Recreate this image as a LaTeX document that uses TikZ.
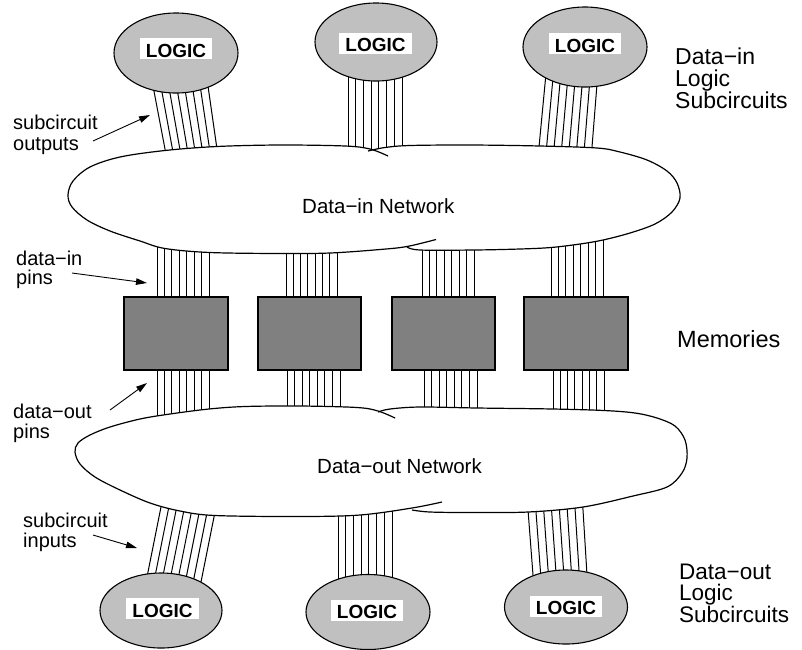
\documentclass[tikz,border=0pt]{standalone}
\usepackage{fontspec}
\setmainfont{Liberation Sans}
\usetikzlibrary{shapes.geometric,arrows.meta}
\definecolor{logicgray}{HTML}{C0C0C0}
\definecolor{memgray}{HTML}{808080}
\newcommand\wirebundle[6]{\foreach \i in {0,...,7}{\draw[wire] ({#1+(#2-#1)*\i/7},#3) -- ({#4+(#5-#4)*\i/7},#6);}}
\newcommand\blobfill[1]{\fill[white] plot[smooth,tension=0.55] coordinates {#1} -- cycle;}
\newcommand\blobdraw[1]{\draw[cloudline] plot[smooth,tension=0.55] coordinates {#1};}
\def\cAL{(388,156) (370,149) (345,146) (280,145) (217,146.5) (165,150.5) (120,157) (90,167) (73,181) (68,195) (72,207) (87,220) (110,231) (140,241) (165,248.5) (210,252.5) (280,253.5) (330,253) (380,249.5) (407,246.5) (436,239.5)}
\def\cAR{(407,247) (420,250) (474,250) (520,249) (551,247.5) (580,244) (603,240) (630,233) (655,224) (672,212) (680,198) (677,183) (667,171) (647,160) (620,152) (597,148) (540,146) (470,145) (410,145.5) (385,147.5) (368,151)}
\def\cBL{(395,418) (378,411) (357,407.5) (300,406) (245,406.5) (209,409) (170,414) (140,419) (110,427) (90,435) (78,443) (75,452) (80,464) (95,477) (120,490) (150,503) (180,511) (215,515.5) (300,516.5) (360,515) (412,508) (442,502)}
\def\cBR{(378,412) (390,409) (420,407) (477,408) (553,409) (604,410.5) (635,413) (657,418) (675,426) (685,440) (687,458) (682,473) (667,487) (633,496) (583,507) (528,512) (470,512.5) (430,512) (412,510)}
\begin{document}
\begin{tikzpicture}[x=1pt,y=-1pt,
  wire/.style={line width=1pt, shorten <=-8pt, shorten >=-8pt},
  cloudline/.style={line width=1.2pt},
  logic/.style={ellipse, draw, line width=1.1pt, fill=logicgray, inner sep=0pt},
  logictxt/.style={fill=white, font=\fontsize{19}{19}\selectfont\bfseries, inner xsep=6pt, inner ysep=2pt, text height=17pt, text depth=0pt},
  mem/.style={draw, line width=1.1pt, fill=memgray, minimum height=73pt, inner sep=0pt},
  lbl/.style={inner sep=0pt, anchor=base west, align=left},
  arr/.style={line width=0.9pt, -{Triangle[length=11pt,width=6.5pt]}}
]
\useasboundingbox (0,0) rectangle (802,649);

% wire bundles
\wirebundle{153}{208}{86}{165}{217}{149}
\wirebundle{348}{402}{75}{348}{402}{146}
\wirebundle{545}{597}{84}{539}{592}{147}
\wirebundle{157}{209}{248}{157}{209}{300}
\wirebundle{286}{337}{250}{286}{337}{300}
\wirebundle{422}{474}{250}{422}{474}{300}
\wirebundle{551}{603}{244}{551}{603}{300}
\wirebundle{157}{209}{367}{157}{209}{412}
\wirebundle{287}{340}{367}{287}{340}{412}
\wirebundle{424}{477}{367}{424}{477}{412}
\wirebundle{553}{604}{367}{553}{604}{412}
\wirebundle{160}{215}{512}{147}{202}{577}
\wirebundle{338}{392}{514}{338}{392}{583}
\wirebundle{528}{583}{510}{533}{587}{575}

% clouds
\expandafter\blobfill\expandafter{\cAL}
\expandafter\blobfill\expandafter{\cAR}
\expandafter\blobfill\expandafter{\cBL}
\expandafter\blobfill\expandafter{\cBR}
\expandafter\blobdraw\expandafter{\cAL}
\expandafter\blobdraw\expandafter{\cAR}
\expandafter\blobdraw\expandafter{\cBL}
\expandafter\blobdraw\expandafter{\cBR}
\node[lbl, font=\fontsize{20.5}{20}\selectfont] (netin) at (302,213) {Data−in Network};
\node[lbl, font=\fontsize{20.5}{20}\selectfont] (netout) at (317,473) {Data−out Network};

% logic ellipses
\node[logic, minimum width=124pt, minimum height=80pt] (L1) at (176,53) {};
\node[logic, minimum width=122pt, minimum height=78pt] (L2) at (376,42) {};
\node[logic, minimum width=124pt, minimum height=80pt] (L3) at (585,47) {};
\node[logic, minimum width=122pt, minimum height=75pt] (L4) at (161,610.5) {};
\node[logic, minimum width=124pt, minimum height=75pt] (L5) at (368,612) {};
\node[logic, minimum width=123pt, minimum height=74pt] (L6) at (566,607) {};
\node[logictxt] (t1) at (176,48.5) {LOGIC};
\node[logictxt] (t2) at (375.5,43) {LOGIC};
\node[logictxt] (t3) at (585,43.5) {LOGIC};
\node[logictxt] (t4) at (162.5,608.5) {LOGIC};
\node[logictxt] (t5) at (367,610) {LOGIC};
\node[logictxt] (t6) at (566,606) {LOGIC};

% memories
\node[mem, minimum width=104pt] (M1) at (176,333.5) {};
\node[mem, minimum width=103pt] (M2) at (309.5,333.5) {};
\node[mem, minimum width=103pt] (M3) at (443.5,333.5) {};
\node[mem, minimum width=104pt] (M4) at (576,333.5) {};

% side labels (base = baseline of last line)
\node[lbl, font=\fontsize{20}{21}\selectfont] (so) at (13,150) {subcircuit\\outputs};
\node[lbl, font=\fontsize{20}{19}\selectfont] (dip) at (16,284) {data−in\\pins};
\node[lbl, font=\fontsize{20}{20}\selectfont] (dop) at (13,438) {data−out\\pins};
\node[lbl, font=\fontsize{20}{20}\selectfont] (si) at (23,547) {subcircuit\\inputs};
\node[lbl, font=\fontsize{23}{22}\selectfont] (dil) at (675,108) {Data−in\\Logic\\Subcircuits};
\node[lbl, font=\fontsize{23.5}{20}\selectfont] (mems) at (677,347) {Memories};
\node[lbl, font=\fontsize{22.5}{20.5}\selectfont] (dol) at (679,622) {Data−out\\Logic\\Subcircuits};

% arrows
\coordinate (a1t) at (93,141); \coordinate (a1h) at (150,115);
\coordinate (a2t) at (72,273); \coordinate (a2h) at (147,283);
\coordinate (a3t) at (110,410); \coordinate (a3h) at (147,383);
\coordinate (a4t) at (93,535); \coordinate (a4h) at (137,548);
\draw[arr] (a1t) -- (a1h);
\draw[arr] (a2t) -- (a2h);
\draw[arr] (a3t) -- (a3h);
\draw[arr] (a4t) -- (a4h);
\end{tikzpicture}
\end{document}
